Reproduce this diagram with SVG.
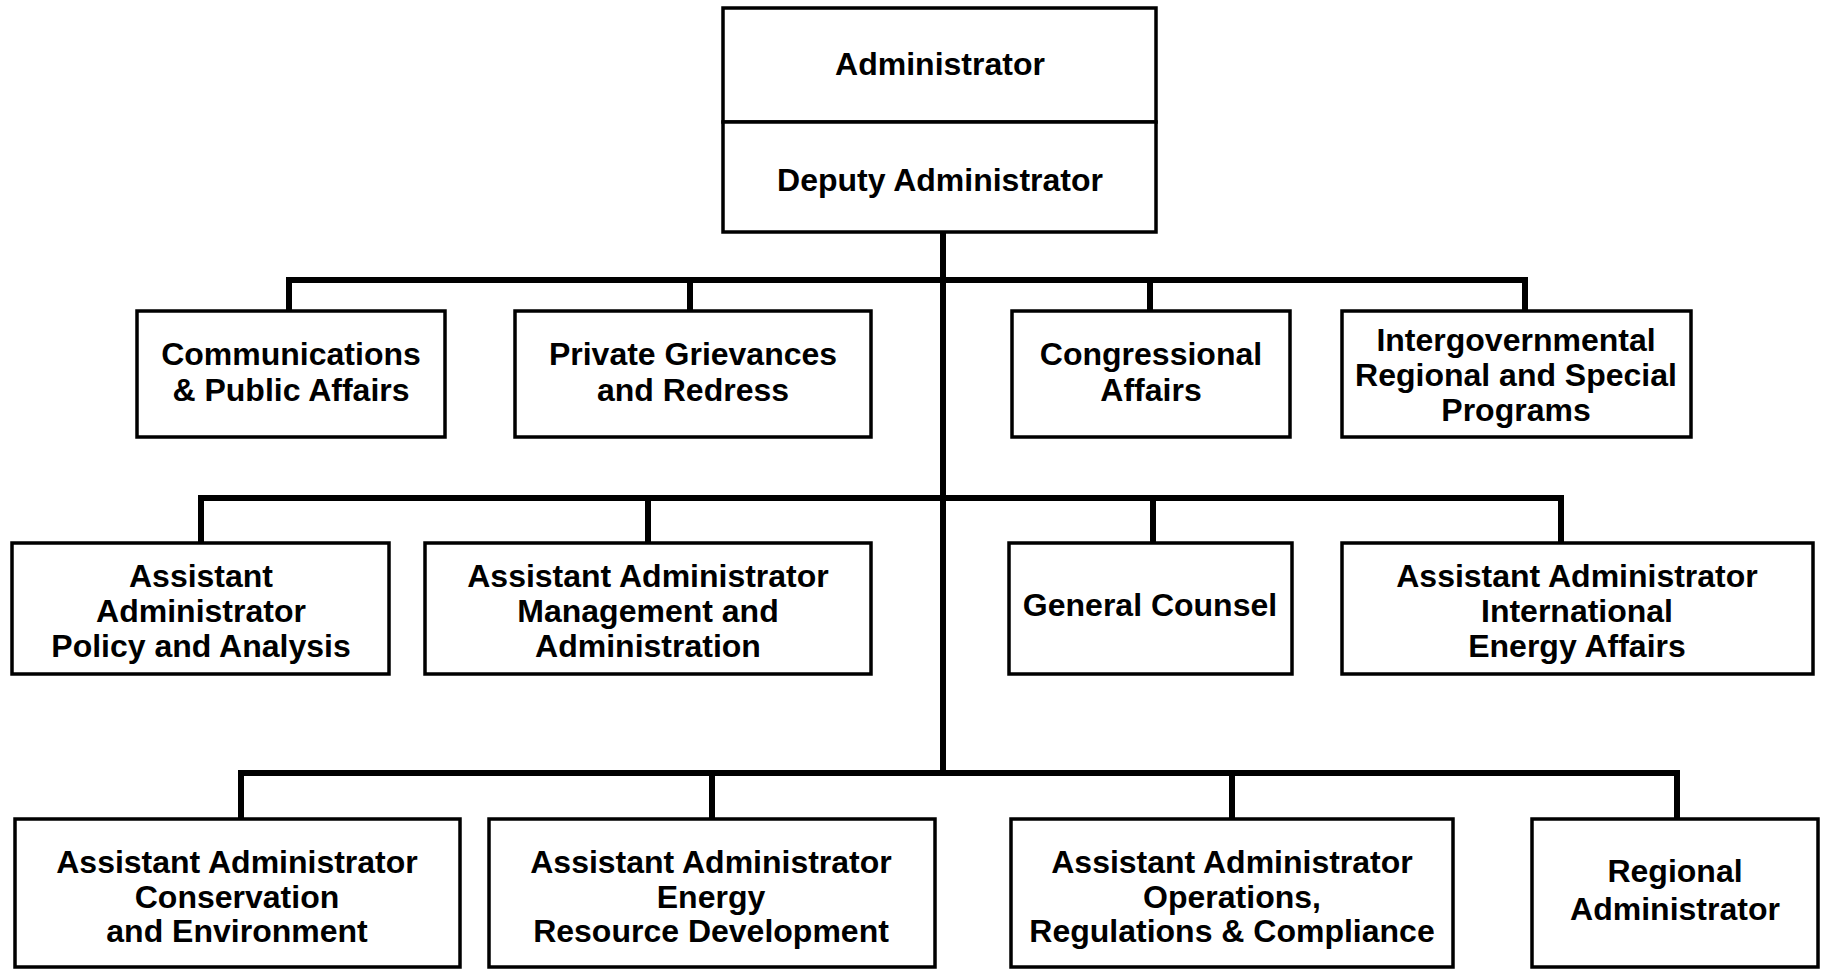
<svg xmlns="http://www.w3.org/2000/svg" width="1822" height="970" viewBox="0 0 1822 970">
  <style>
    .box { fill: #fff; stroke: #000; stroke-width: 3.5; }
    .lbl { font-family: "Liberation Sans", Arial, sans-serif; font-weight: bold; font-size: 32px; fill: #000; text-anchor: middle; }
    .wire { fill: none; stroke: #000; stroke-width: 6; stroke-linecap: square; stroke-linejoin: miter; }
  </style>
  <rect width="1822" height="970" fill="#fff"/>

  <!-- connectors -->
  <g id="connectors">
    <path class="wire" d="M943 232 V773"/>
    <path class="wire" d="M289 311 V280 H1525 V311 M690 280 V311 M1150 280 V311"/>
    <path class="wire" d="M201 543 V498 H1561 V543 M648 498 V543 M1153 498 V543"/>
    <path class="wire" d="M241 819 V773 H1677 V819 M712 773 V819 M1232 773 V819"/>
  </g>

  <!-- top office -->
  <g id="administrator">
    <rect class="box" x="723" y="8" width="433" height="114"/>
    <text class="lbl" x="940" y="75">Administrator</text>
  </g>
  <g id="deputy-administrator">
    <rect class="box" x="723" y="122" width="433" height="110"/>
    <text class="lbl" x="940" y="191">Deputy Administrator</text>
  </g>

  <!-- first tier -->
  <g id="communications">
    <rect class="box" x="137" y="311" width="308" height="126"/>
    <text class="lbl" x="291" y="365">Communications</text>
    <text class="lbl" x="291" y="401">&amp; Public Affairs</text>
  </g>
  <g id="private-grievances">
    <rect class="box" x="515" y="311" width="356" height="126"/>
    <text class="lbl" x="693" y="365">Private Grievances</text>
    <text class="lbl" x="693" y="401">and Redress</text>
  </g>
  <g id="congressional-affairs">
    <rect class="box" x="1012" y="311" width="278" height="126"/>
    <text class="lbl" x="1151" y="365">Congressional</text>
    <text class="lbl" x="1151" y="401">Affairs</text>
  </g>
  <g id="intergovernmental">
    <rect class="box" x="1342" y="311" width="349" height="126"/>
    <text class="lbl" x="1516" y="351">Intergovernmental</text>
    <text class="lbl" x="1516" y="386">Regional and Special</text>
    <text class="lbl" x="1516" y="421">Programs</text>
  </g>

  <!-- second tier -->
  <g id="policy-analysis">
    <rect class="box" x="12" y="543" width="377" height="131"/>
    <text class="lbl" x="201" y="587">Assistant</text>
    <text class="lbl" x="201" y="622">Administrator</text>
    <text class="lbl" x="201" y="657">Policy and Analysis</text>
  </g>
  <g id="management-administration">
    <rect class="box" x="425" y="543" width="446" height="131"/>
    <text class="lbl" x="648" y="587">Assistant Administrator</text>
    <text class="lbl" x="648" y="622">Management and</text>
    <text class="lbl" x="648" y="657">Administration</text>
  </g>
  <g id="general-counsel">
    <rect class="box" x="1009" y="543" width="283" height="131"/>
    <text class="lbl" x="1150" y="616">General Counsel</text>
  </g>
  <g id="international-energy">
    <rect class="box" x="1342" y="543" width="471" height="131"/>
    <text class="lbl" x="1577" y="587">Assistant Administrator</text>
    <text class="lbl" x="1577" y="622">International</text>
    <text class="lbl" x="1577" y="657">Energy Affairs</text>
  </g>

  <!-- third tier -->
  <g id="conservation-environment">
    <rect class="box" x="15" y="819" width="445" height="148"/>
    <text class="lbl" x="237" y="873">Assistant Administrator</text>
    <text class="lbl" x="237" y="908">Conservation</text>
    <text class="lbl" x="237" y="942">and Environment</text>
  </g>
  <g id="energy-resource">
    <rect class="box" x="489" y="819" width="446" height="148"/>
    <text class="lbl" x="711" y="873">Assistant Administrator</text>
    <text class="lbl" x="711" y="908">Energy</text>
    <text class="lbl" x="711" y="942">Resource Development</text>
  </g>
  <g id="operations-regulations">
    <rect class="box" x="1011" y="819" width="442" height="148"/>
    <text class="lbl" x="1232" y="873">Assistant Administrator</text>
    <text class="lbl" x="1232" y="908">Operations,</text>
    <text class="lbl" x="1232" y="942">Regulations &amp; Compliance</text>
  </g>
  <g id="regional-administrator">
    <rect class="box" x="1532" y="819" width="286" height="148"/>
    <text class="lbl" x="1675" y="882">Regional</text>
    <text class="lbl" x="1675" y="920">Administrator</text>
  </g>
</svg>
